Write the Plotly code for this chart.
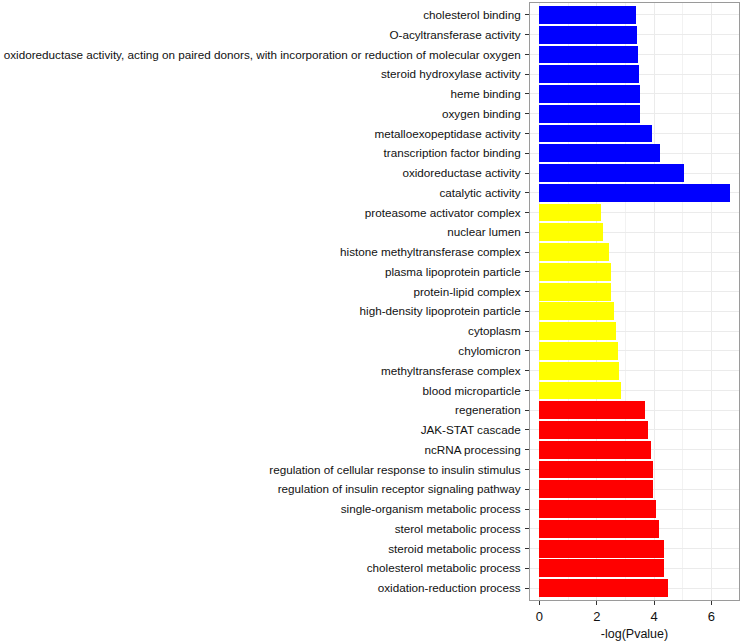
import plotly.graph_objects as go

# GO terms, top to bottom as drawn
terms = [
    "cholesterol binding",
    "O-acyltransferase activity",
    "oxidoreductase activity, acting on paired donors, with incorporation or reduction of molecular oxygen",
    "steroid hydroxylase activity",
    "heme binding",
    "oxygen binding",
    "metalloexopeptidase activity",
    "transcription factor binding",
    "oxidoreductase activity",
    "catalytic activity",
    "proteasome activator complex",
    "nuclear lumen",
    "histone methyltransferase complex",
    "plasma lipoprotein particle",
    "protein-lipid complex",
    "high-density lipoprotein particle",
    "cytoplasm",
    "chylomicron",
    "methyltransferase complex",
    "blood microparticle",
    "regeneration",
    "JAK-STAT cascade",
    "ncRNA processing",
    "regulation of cellular response to insulin stimulus",
    "regulation of insulin receptor signaling pathway",
    "single-organism metabolic process",
    "sterol metabolic process",
    "steroid metabolic process",
    "cholesterol metabolic process",
    "oxidation-reduction process",
]
neg_log_p = [
    3.35, 3.39, 3.43, 3.48, 3.51, 3.52, 3.92, 4.19, 5.05, 6.63,
    2.15, 2.22, 2.41, 2.48, 2.48, 2.59, 2.66, 2.73, 2.78, 2.86,
    3.68, 3.79, 3.90, 3.95, 3.95, 4.06, 4.16, 4.33, 4.33, 4.49,
]
bar_colors = ["#0000FF"] * 10 + ["#FFFF00"] * 10 + ["#FF0000"] * 10

fig = go.Figure()
fig.add_trace(go.Bar(
    x=neg_log_p, y=terms, orientation="h",
    marker=dict(color=bar_colors, line=dict(width=0)),
    width=0.9, showlegend=False,
))

fig.update_layout(
    width=743, height=643,
    margin=dict(l=530, r=4, t=3, b=43),
    paper_bgcolor="white", plot_bgcolor="white",
    font=dict(family="Liberation Sans, Arial, sans-serif", size=11.7, color="#111111"),
    bargap=0,
)
fig.update_xaxes(
    range=[-0.33, 6.96],
    tickvals=[0, 2, 4, 6],
    ticks="outside", ticklen=4, tickcolor="#333333",
    tickfont=dict(size=13),
    showgrid=True, gridcolor="#EBEBEB", gridwidth=1,
    minor=dict(tickvals=[1, 3, 5], showgrid=True, gridcolor="#F2F2F2", gridwidth=1),
    zeroline=False,
    showline=True, linecolor="#9a9a9a", linewidth=1, mirror=True,
    title=dict(text="-log(Pvalue)", font=dict(size=12.5), standoff=6),
    automargin=False,
)
fig.update_yaxes(
    type="category", categoryorder="array", categoryarray=terms,
    range=[29.6, -0.6],
    ticks="outside", ticklen=4, tickcolor="#333333",
    showgrid=True, gridcolor="#EBEBEB", gridwidth=1,
    zeroline=False,
    showline=True, linecolor="#9a9a9a", linewidth=1, mirror=True,
    ticklabelstandoff=2,
    automargin=False,
)

# page body has a default 8px margin; drop it so the figure sits at 0,0
fig.write_html("out.html", config={"displayModeBar": False},
               post_script="document.body.style.margin='0';")
